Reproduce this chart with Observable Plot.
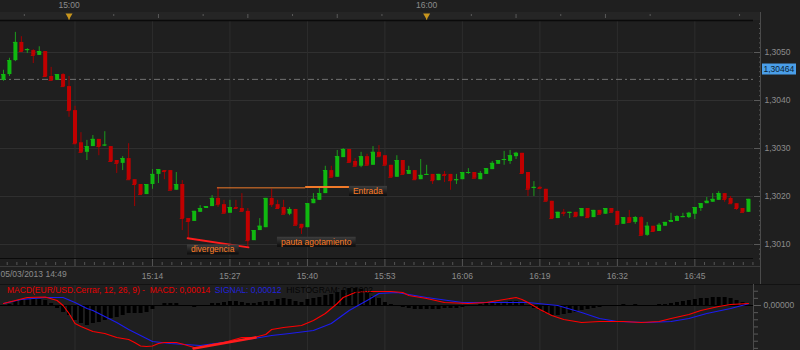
<!DOCTYPE html>
<html><head><meta charset="utf-8">
<script src="https://cdn.jsdelivr.net/npm/d3@7"></script>
<script src="https://cdn.jsdelivr.net/npm/@observablehq/plot@0.6"></script>
<style>
html,body{margin:0;padding:0;background:#1f1f1f;}
#wrap{position:relative;width:800px;height:350px;overflow:hidden;background:#1f1f1f;font-family:"Liberation Sans",Arial,sans-serif;}
#main,#macd{position:absolute;left:0;}
#main{top:0;} #macd{top:284px;}
#macdTitle{position:absolute;left:7px;top:285px;font-size:8.5px;line-height:10px;white-space:pre;}
</style></head><body>
<div id="wrap"><div id="main"></div><div id="macd"></div><div id="macdTitle"></div></div>
<script>
// ---------- DATA ----------
const sessionDate = "05/03/2013";
const firstBarTime = "14:49";
const open = [1.30442,1.30454,1.30483,1.30521,1.30504,1.30504,1.30494,1.30502,1.30450,1.30442,1.30454,1.30429,1.30379,1.30312,1.30292,1.30304,1.30319,1.30306,1.30304,1.30275,1.30269,1.30279,1.30235,1.30225,1.30204,1.30225,1.30246,1.30254,1.30254,1.30213,1.30225,1.30154,1.30148,1.30167,1.30175,1.30179,1.30196,1.30183,1.30165,1.30177,1.30175,1.30169,1.30108,1.30129,1.30135,1.30196,1.30183,1.30177,1.30163,1.30173,1.30142,1.30135,1.30185,1.30192,1.30206,1.30254,1.30240,1.30281,1.30298,1.30273,1.30263,1.30283,1.30265,1.30292,1.30285,1.30265,1.30240,1.30275,1.30246,1.30254,1.30235,1.30244,1.30246,1.30233,1.30246,1.30246,1.30233,1.30235,1.30248,1.30250,1.30235,1.30246,1.30256,1.30267,1.30275,1.30273,1.30283,1.30290,1.30250,1.30217,1.30219,1.30215,1.30190,1.30154,1.30167,1.30165,1.30167,1.30158,1.30175,1.30156,1.30171,1.30163,1.30175,1.30169,1.30142,1.30156,1.30146,1.30156,1.30119,1.30138,1.30127,1.30138,1.30146,1.30148,1.30156,1.30156,1.30163,1.30175,1.30185,1.30188,1.30192,1.30206,1.30196,1.30185,1.30175,1.30167];
const high = [1.30463,1.30488,1.30542,1.30533,1.30508,1.30506,1.30512,1.30502,1.30469,1.30454,1.30456,1.30450,1.30388,1.30333,1.30317,1.30327,1.30319,1.30335,1.30304,1.30275,1.30283,1.30310,1.30235,1.30225,1.30225,1.30256,1.30256,1.30254,1.30254,1.30250,1.30233,1.30154,1.30169,1.30181,1.30179,1.30202,1.30219,1.30192,1.30192,1.30192,1.30206,1.30175,1.30129,1.30154,1.30196,1.30215,1.30192,1.30192,1.30177,1.30173,1.30142,1.30185,1.30206,1.30219,1.30263,1.30263,1.30296,1.30300,1.30298,1.30279,1.30292,1.30288,1.30304,1.30306,1.30285,1.30265,1.30285,1.30275,1.30263,1.30254,1.30277,1.30265,1.30246,1.30246,1.30252,1.30246,1.30246,1.30250,1.30258,1.30250,1.30252,1.30258,1.30273,1.30275,1.30294,1.30296,1.30292,1.30290,1.30250,1.30231,1.30221,1.30215,1.30190,1.30167,1.30173,1.30167,1.30167,1.30175,1.30175,1.30171,1.30171,1.30175,1.30175,1.30169,1.30156,1.30171,1.30158,1.30158,1.30146,1.30138,1.30144,1.30146,1.30165,1.30160,1.30165,1.30167,1.30177,1.30185,1.30198,1.30206,1.30210,1.30206,1.30200,1.30185,1.30175,1.30194];
const low = [1.30440,1.30450,1.30481,1.30500,1.30498,1.30477,1.30494,1.30448,1.30442,1.30442,1.30429,1.30365,1.30308,1.30292,1.30275,1.30304,1.30285,1.30304,1.30273,1.30248,1.30254,1.30235,1.30179,1.30204,1.30204,1.30215,1.30227,1.30235,1.30213,1.30213,1.30129,1.30113,1.30148,1.30167,1.30175,1.30179,1.30177,1.30165,1.30165,1.30175,1.30169,1.30094,1.30108,1.30129,1.30135,1.30177,1.30175,1.30163,1.30160,1.30140,1.30121,1.30135,1.30185,1.30192,1.30206,1.30240,1.30240,1.30281,1.30271,1.30263,1.30260,1.30265,1.30265,1.30283,1.30265,1.30240,1.30240,1.30246,1.30246,1.30235,1.30235,1.30244,1.30225,1.30233,1.30229,1.30213,1.30225,1.30235,1.30246,1.30238,1.30235,1.30246,1.30256,1.30267,1.30265,1.30267,1.30277,1.30246,1.30200,1.30200,1.30215,1.30190,1.30154,1.30154,1.30158,1.30154,1.30158,1.30158,1.30156,1.30156,1.30163,1.30163,1.30167,1.30142,1.30142,1.30146,1.30142,1.30119,1.30117,1.30127,1.30127,1.30138,1.30146,1.30148,1.30156,1.30154,1.30152,1.30169,1.30185,1.30188,1.30192,1.30188,1.30185,1.30171,1.30167,1.30167];
const close = [1.30454,1.30483,1.30521,1.30502,1.30506,1.30494,1.30502,1.30450,1.30442,1.30454,1.30429,1.30379,1.30310,1.30292,1.30304,1.30319,1.30304,1.30307,1.30273,1.30269,1.30279,1.30235,1.30225,1.30204,1.30225,1.30246,1.30256,1.30252,1.30213,1.30225,1.30154,1.30148,1.30169,1.30175,1.30179,1.30196,1.30183,1.30165,1.30177,1.30175,1.30169,1.30108,1.30129,1.30138,1.30196,1.30183,1.30175,1.30163,1.30173,1.30140,1.30135,1.30185,1.30194,1.30206,1.30254,1.30240,1.30283,1.30298,1.30271,1.30263,1.30283,1.30265,1.30292,1.30283,1.30265,1.30240,1.30275,1.30246,1.30254,1.30235,1.30244,1.30246,1.30233,1.30246,1.30244,1.30233,1.30235,1.30250,1.30250,1.30238,1.30248,1.30258,1.30269,1.30275,1.30277,1.30285,1.30290,1.30248,1.30215,1.30219,1.30217,1.30190,1.30154,1.30167,1.30165,1.30167,1.30158,1.30175,1.30156,1.30171,1.30163,1.30175,1.30167,1.30142,1.30156,1.30146,1.30156,1.30119,1.30138,1.30127,1.30140,1.30146,1.30150,1.30158,1.30158,1.30165,1.30177,1.30185,1.30190,1.30194,1.30206,1.30194,1.30185,1.30175,1.30167,1.30194];

// MACD(12,26,9) read at sampled bars (minutes after first bar)
const macdMinute = [0,4,7,9,10,11,12,13,15,17,19,21,22,23,24,25,26,27,29,30,32,33,35,37,40,42,44,45,47,50,52,54,55,56,57,59,61,63,65,67,68,71,74,78,81,84,86,87,88,90,92,94,97,100,104,107,110,112,115,117,120,122,125];
const macdValue = [0.00014,0.00056,0.00060,0.00035,0,-0.00056,-0.00126,-0.00147,-0.00182,-0.00196,-0.00224,-0.00238,-0.00259,-0.00284,-0.00287,-0.00284,-0.00266,-0.00259,-0.00259,-0.00270,-0.00294,-0.00294,-0.00273,-0.00259,-0.00224,-0.00224,-0.00203,-0.00168,-0.00154,-0.00140,-0.00105,-0.00056,-0.00021,0.00014,0.00056,0.00091,0.00098,0.00098,0.00098,0.00091,0.00070,0.00049,0.00021,0.00014,0.00021,0.00042,0.00056,0.00042,0.00021,-0.00028,-0.00070,-0.00098,-0.00119,-0.00112,-0.00112,-0.00119,-0.00112,-0.00091,-0.00063,-0.00035,-0.00007,0.00007,0.00014];
const signalMinute = [0,3,7,10,12,14,15,17,19,21,23,25,28,33,38,42,45,48,52,55,58,61,63,66,71,77,83,88,93,97,100,103,108,112,115,118,122,125];
const signalValue = [0.00014,0.00042,0.00056,0.00056,0.00021,-0.00021,-0.00035,-0.00077,-0.00119,-0.00168,-0.00210,-0.00252,-0.00266,-0.00280,-0.00252,-0.00231,-0.00210,-0.00196,-0.00175,-0.00126,-0.00035,0.00035,0.00084,0.00091,0.00056,0.00021,0.00021,0.00021,0,-0.00049,-0.00091,-0.00112,-0.00119,-0.00112,-0.00091,-0.00056,-0.00021,0.00012];
const histogram = [0,0.00007,0.00035,0.00042,0.00042,0.00042,0.00042,0.00035,0.00014,-0.00021,-0.00049,-0.0007,-0.00105,-0.00126,-0.0014,-0.00126,-0.00119,-0.00105,-0.00091,-0.00084,-0.0007,-0.00056,-0.00056,-0.00056,-0.00049,-0.00028,-0.00007,0.00014,0.00014,0.00014,0,-0.00007,-0.00014,-0.00007,0,0.00014,0.00014,0.00021,0.00028,0.00028,0.00021,0.00014,0.00014,0.00021,0.00028,0.00028,0.00042,0.00049,0.00042,0.00028,0.00021,0.00042,0.00049,0.00056,0.0007,0.00077,0.00091,0.00105,0.00119,0.00119,0.00112,0.00084,0.00063,0.00049,0.00021,0.00007,-0.00007,-0.00014,-0.00021,-0.00028,-0.00028,-0.00028,-0.00028,-0.00028,-0.00021,-0.00021,-0.00021,-0.00014,-0.00007,0,0.00007,0.00014,0.00014,0.00021,0.00021,0.00028,0.00028,0.00014,0,-0.00021,-0.00035,-0.00056,-0.0007,-0.0007,-0.00063,-0.00056,-0.00049,-0.00035,-0.00028,-0.00021,-0.00014,-0.00007,0,0,0.00007,0,0.00007,0,0,0,0.00007,0.00007,0.00014,0.00021,0.00028,0.00035,0.00042,0.00049,0.00049,0.00056,0.00056,0.00056,0.00049,0.00035,0.00021,0.00002];
const macdTitle = ["MACD(EUR/USD.Cerrar, 12, 26, 9) -  MACD: 0,00014", "SIGNAL: 0,00012", "HISTOGRAM: 0,00002"];

// axis ticks & labels
const priceTicks = [1.3010,1.3020,1.3030,1.3040,1.3050];
const topTickLabels = ["15:00","16:00"];
const bottomTickLabels = ["15:14","15:27","15:40","15:53","16:06","16:19","16:32","16:45"];
const gridTimeLabels = ["15:01", ...bottomTickLabels];
const referencePrice = 1.30444;   // dash-dot line
const markerPrice = 1.30464;      // blue price tag

// drawn annotations
const entradaLevel = [{from:35.9, to:50.7, price:1.30218, w:1}, {from:50.7, to:58.05, price:1.30220, w:2}];
const divergencePrice = [{minute:30.9, price:1.30113}, {minute:41.1, price:1.30094}];
const divergenceMacd = [{minute:31.9, value:-0.00301}, {minute:42.3, value:-0.00224}];
const annotations = [
  {label:"Entrada", minute:58.05, price:1.30210},
  {label:"divergencia", minute:30.87, price:1.30088},
  {label:"pauta agotamiento", minute:45.97, price:1.30104}
];

// ---------- BUILD ----------
const base = Date.UTC(2013,2,5,14,49);
const T = m => new Date(base + m*60000);
const hm = s => { const [h,m] = s.split(":").map(Number); return new Date(Date.UTC(2013,2,5,h,m)); };
const fmtHM = d3.utcFormat("%H:%M");
const candles = open.map((o,i)=>({t:T(i), o, h:high[i], l:low[i], c:close[i]}));
const up = candles.filter(d=>d.c>=d.o), dn = candles.filter(d=>d.c<d.o);
const xDomain = [T(-0.5), T(125.84)];
const gridTimes = gridTimeLabels.map(hm);
const topTimes = topTickLabels.map(hm);
const quarter = d3.range(0,8).map(k=>new Date(hm("14:45").getTime()+k*15*60000)).filter(d=>d.getUTCMinutes()!==0 && d>xDomain[0] && d<xDomain[1]);
const eighth = d3.range(0,18).map(k=>new Date(hm("14:52").getTime()+30000+k*15*60000)).filter(d=>d<xDomain[1]);
const minorPrice = d3.range(1.3007,1.30567,0.0001).map(v=>+v.toFixed(4)).filter(v=>!priceTicks.includes(v));
const step = 13/8;
const bottomMinor = d3.range(-7,76).map(k=>12+k*step).filter(m=>m>-0.5 && m<125.8 && Math.abs(((m-12)/step)%8)>0.01).map(T);
const font = "Liberation Sans, Arial, sans-serif";
const GREEN="#10b810", GREENW="#1c9c1c", RED="#c00000", REDW="#a00000";
const NL = {label:null};

const main = Plot.plot({
  width:800, height:284, marginTop:20, marginBottom:26, marginLeft:0, marginRight:47,
  style:{background:"transparent", color:"#8c8c8c", fontFamily:font, fontSize:"8.5px"},
  x:{type:"utc", domain:xDomain, label:null},
  y:{domain:[1.300708,1.305667], label:null},
  marks:[
    Plot.gridY(priceTicks,{stroke:"#303030",strokeOpacity:1}),
    Plot.gridX(gridTimes,{stroke:"#2d2d2d",strokeOpacity:1}),
    Plot.ruleY([referencePrice],{stroke:"#707070",strokeDasharray:"6,3,2,3"}),
    Plot.ruleX(up,{x:"t",y1:"l",y2:"h",stroke:GREENW}),
    Plot.ruleX(dn,{x:"t",y1:"l",y2:"h",stroke:REDW}),
    Plot.ruleX(up,{x:"t",y1:"o",y2:"c",stroke:GREEN,strokeWidth:4}),
    Plot.ruleX(dn,{x:"t",y1:"o",y2:"c",stroke:RED,strokeWidth:4}),
    Plot.ruleY(up,{y:"c",x1:d=>new Date(+d.t-20000),x2:d=>new Date(+d.t+20000),stroke:GREEN}),
    Plot.ruleY(dn,{y:"c",x1:d=>new Date(+d.t-20000),x2:d=>new Date(+d.t+20000),stroke:RED}),
    ...entradaLevel.map(s=>Plot.ruleY([s],{y:"price",x1:d=>T(d.from),x2:d=>T(d.to),stroke:"#f07a2a",strokeWidth:s.w})),
    Plot.line(divergencePrice,{x:d=>T(d.minute),y:"price",stroke:"#ff1c1c",strokeWidth:2}),
    // right axis
    Plot.axisY(priceTicks,{...NL,anchor:"right",tickSize:7,tickPadding:4,tickFormat:d=>d.toFixed(4).replace(".",","),stroke:"#5a5a5a",fill:"#8c8c8c"}),
    Plot.axisY(minorPrice,{...NL,anchor:"right",tickSize:2,dx:5,tickFormat:()=>"",stroke:"#5a5a5a"}),
    // top axis
    Plot.axisX(quarter,{...NL,anchor:"top",tickSize:4,dy:-3,tickFormat:()=>"",stroke:"#5a5a5a"}),
    Plot.axisX(eighth,{...NL,anchor:"top",tickSize:2,dy:-5,tickFormat:()=>"",stroke:"#5a5a5a"}),
    Plot.axisX(topTimes,{...NL,anchor:"top",tickSize:3,tickPadding:10,tickFormat:fmtHM,stroke:"#c8961e",fill:"#8c8c8c"}),
    Plot.dot(topTimes,{x:d=>d,frameAnchor:"top",dy:-5,symbol:"triangle",rotate:180,r:2.6,fill:"#c8961e"}),
    // bottom axis
    Plot.axisX(gridTimes,{...NL,anchor:"bottom",tickSize:8,tickFormat:()=>"",stroke:"#555"}),
    Plot.axisX(bottomMinor,{...NL,anchor:"bottom",tickSize:3,dy:4,tickFormat:()=>"",stroke:"#555"}),
    Plot.axisX(bottomTickLabels.map(hm),{...NL,anchor:"bottom",tickSize:0,tickPadding:14,tickFormat:fmtHM,fill:"#8c8c8c"}),
    Plot.text([`${sessionDate} ${firstBarTime}`],{frameAnchor:"bottom-left",dy:18,textAnchor:"start",text:d=>d,fill:"#8c8c8c",fontSize:8.5})
  ]
});
document.getElementById("main").appendChild(main);

const macd = Plot.plot({
  width:800, height:66, marginTop:1, marginBottom:0, marginLeft:0, marginRight:47,
  style:{background:"transparent", color:"#8c8c8c", fontFamily:font, fontSize:"8.5px"},
  x:{type:"utc", domain:xDomain, axis:null, label:null},
  y:{domain:[-0.00315,0.0014], label:null},
  marks:[
    Plot.gridX(gridTimes,{stroke:"#2d2d2d",strokeOpacity:1}),
    Plot.ruleX(histogram.map((v,i)=>({t:T(i),v})),{x:"t",y1:0,y2:"v",stroke:"#000",strokeWidth:4}),
    Plot.ruleY([0],{stroke:"#000"}),
    Plot.line(signalMinute.map((m,i)=>({t:T(m),v:signalValue[i]})),{x:"t",y:"v",stroke:"#1c1cf0",strokeWidth:1.1}),
    Plot.line(macdMinute.map((m,i)=>({t:T(m),v:macdValue[i]})),{x:"t",y:"v",stroke:"#ff0000",strokeWidth:1.1}),
    Plot.line(divergenceMacd,{x:d=>T(d.minute),y:"value",stroke:"#ff1c1c",strokeWidth:2.5}),
    Plot.axisY(d3.range(-0.003,0.0015,0.0005).map(v=>+v.toFixed(4)),{...NL,anchor:"right",tickSize:4,tickFormat:()=>"",stroke:"#5a5a5a"}),
    Plot.axisY([0],{...NL,anchor:"right",tickSize:7,tickPadding:3,tickFormat:()=>"0,00000",stroke:"#5a5a5a",fill:"#8c8c8c"})
  ]
});
document.getElementById("macd").appendChild(macd);

// title of the MACD pane
const title = document.getElementById("macdTitle");
[["#e60000",macdTitle[0]],["#2222dd",macdTitle[1]],["#050505",macdTitle[2]]].forEach(([c,s],k)=>{
  const sp=document.createElement("span"); sp.style.color=c; sp.textContent=(k?"  ":"")+s; title.appendChild(sp);
});

// ---------- chrome / boxed labels positioned with the plot's scales ----------
const NS="http://www.w3.org/2000/svg";
function el(parent,tag,attrs,first){const e=document.createElementNS(NS,tag);for(const k in attrs)e.setAttribute(k,attrs[k]);first?parent.insertBefore(e,parent.firstChild):parent.appendChild(e);return e;}
function scaleFn(plot,name,ctor){const s=plot.scale(name);return (s&&s.apply)?(v=>s.apply(v)):ctor(s.domain,s.range);}
const fx = scaleFn(main,"x",d3.scaleUtc), fy = scaleFn(main,"y",d3.scaleLinear);
const xr = main.scale("x").range;
const defs = el(main,"defs",{},true);
const gr = el(defs,"linearGradient",{id:"boxg",x1:0,y1:0,x2:0,y2:1});
el(gr,"stop",{offset:"0%","stop-color":"#3e3e3e"});
el(gr,"stop",{offset:"100%","stop-color":"#0c0c0c"});
function boxedText(x,y,label,textFill,boxFill,px,py){
  const g=el(main,"g",{"font-size":"8.5px","font-family":font,"text-anchor":"start"});
  const r=el(g,"rect",{fill:boxFill});
  const t=el(g,"text",{x:x+px,y:y,dy:"0.32em",fill:textFill,"text-anchor":"start"});
  t.textContent=label;
  const b=t.getBBox();
  r.setAttribute("x",b.x-px);r.setAttribute("y",b.y-py);r.setAttribute("width",b.width+2*px);r.setAttribute("height",b.height+2*py);
}
annotations.forEach(a=>boxedText(fx(T(a.minute)),fy(a.price),a.label,"#ff7f27","url(#boxg)",4,0));
boxedText(xr[1]+9,fy(markerPrice),markerPrice.toFixed(5).replace(".",","),"#0b1e33","#4a9ee8",1.5,0.5);
el(main,"rect",{x:0,y:12,width:761,height:8,fill:"#252525"},true);
el(main,"line",{x1:0,x2:753,y1:20.5,y2:20.5,stroke:"#0a0a0a","stroke-width":1.5});
el(main,"line",{x1:0,x2:753,y1:258.5,y2:258.5,stroke:"#0a0a0a","stroke-width":1.2});
el(main,"line",{x1:0,x2:761,y1:266.5,y2:266.5,stroke:"#3a3a3a"});
el(main,"line",{x1:760.5,x2:760.5,y1:12,y2:284,stroke:"#4a4a4a"});
el(macd,"line",{x1:0,x2:800,y1:0.5,y2:0.5,stroke:"#121212"});
el(macd,"line",{x1:753.5,x2:753.5,y1:0,y2:66,stroke:"#4a4a4a"});
</script>
</body></html>
